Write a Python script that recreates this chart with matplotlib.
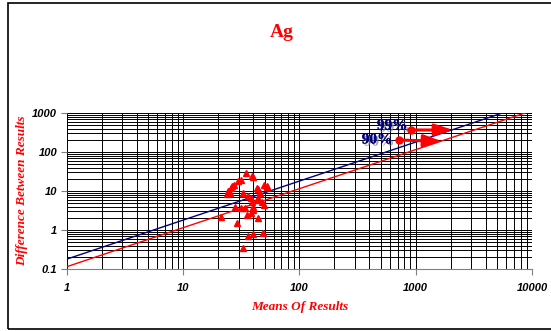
import numpy as np
import matplotlib
matplotlib.use("Agg")
import matplotlib.pyplot as plt
import matplotlib.patheffects as pe
from matplotlib.patches import Rectangle

# paired results for Ag: mean of the pair vs absolute difference
means = [34.5, 40.1, 38.8, 31.4, 29.8, 27.5, 26.4, 25.7, 24.4, 23.8,
         44.2, 49.8, 52.2, 52.8, 42.9, 32.9, 36.3, 44.2, 38.8, 45.7,
         47.3, 49.8, 31.4, 34.0, 40.1, 39.6, 38.0, 35.2, 43.7, 21.0,
         29.2, 36.3, 40.1, 48.8, 32.9, 42.9, 28.0, 38.0, 25.3]
diffs = [28.4, 22.5, 24.2, 19.5, 18.4, 14.3, 13.4, 12.0, 10.0, 8.2,
         11.3, 14.3, 13.4, 12.6, 12.2, 8.7, 7.4, 6.5, 5.3, 9.0,
         5.3, 4.4, 3.7, 3.6, 4.0, 3.3, 2.8, 2.4, 2.07, 2.1,
         1.54, 0.70, 0.78, 0.82, 0.34, 5.9, 4.0, 6.7, 8.7]

# precision control lines  diff = k * mean
line_x = np.array([1, 10000])
k_99 = 0.18
k_90 = 0.115

serif = "Liberation Serif"
sans = "Liberation Sans"

fig = plt.figure(figsize=(5.51, 3.31), dpi=100)
ax = fig.add_axes([0.1216, 0.1873, 0.8439, 0.4713])

ax.set_xscale("log")
ax.set_yscale("log")
ax.set_xlim(1, 10000)
ax.set_ylim(0.1, 1000)

ax.grid(True, which="both", color="black", lw=0.7)
ax.set_axisbelow(True)

ax.plot(line_x, k_99 * line_x, color="#000080", lw=1, zorder=3)
ax.plot(line_x, k_90 * line_x, color="red", lw=1, zorder=3)
ax.plot(means, diffs, "^", color="red", ms=4.5, mec="red", zorder=4, clip_on=False)

# labels with arrows
shadow = [pe.withSimplePatchShadow(offset=(1.5, -1.5), shadow_rgbFace="gray", alpha=0.7), pe.Normal()]
ax.text(625, 464, "99%", color="#000080", fontsize=11, fontweight="bold", family=serif,
        ha="center", va="center", path_effects=shadow, zorder=6)
ax.text(464, 203, "90%", color="#000080", fontsize=11, fontweight="bold", family=serif,
        ha="center", va="center", path_effects=shadow, zorder=6)
arr = dict(arrowstyle="-|>,head_length=0.9,head_width=0.3", color="red", lw=2.2,
           mutation_scale=12, shrinkA=0, shrinkB=0)
ax.annotate("", xy=(2090, 367), xytext=(910, 367), arrowprops=arr, zorder=5)
ax.annotate("", xy=(1682, 188), xytext=(718, 203), arrowprops=arr, zorder=5)
ax.plot([910, 718], [367, 203], "o", color="red", ms=5, zorder=6)

for s in ["top", "right", "left"]:
    ax.spines[s].set_visible(False)
ax.spines["bottom"].set_color("gray")

ax.tick_params(which="minor", length=0)
ax.tick_params(which="major", length=4, width=0.8, color="gray")
ax.tick_params(axis="x", pad=6)
ax.tick_params(axis="y", pad=3)
ax.set_xticks([1, 10, 100, 1000, 10000])
ax.set_xticklabels(["1", "10", "100", "1000", "10000"])
ax.set_yticks([0.1, 1, 10, 100, 1000])
ax.set_yticklabels(["0.1", "1", "10", "100", "1000"])
for lab in ax.get_xticklabels() + ax.get_yticklabels():
    lab.set_family(sans)
    lab.set_fontweight("bold")
    lab.set_fontstyle("italic")
    lab.set_fontsize(8)

ax.set_xlabel("Means Of Results", color="red", fontsize=9.5, fontweight="bold",
              fontstyle="italic", family=serif, va="center")
ax.xaxis.set_label_coords(0.5, -0.242)
ax.set_ylabel("Difference Between Results", color="red", fontsize=9.5, fontweight="bold",
              fontstyle="italic", family=serif, va="center")
ax.yaxis.set_label_coords(-0.097, 0.5)
fig.text(0.512, 0.903, "Ag", color="red", fontsize=14, fontweight="bold",
         family=serif, ha="center", va="center")

# outer frame
fig.patches.append(Rectangle((8 / 551, 2 / 331), 1.0, 1 - 5 / 331, transform=fig.transFigure,
                             fill=False, ec="black", lw=1.2))

fig.savefig("out.png", dpi=100)
